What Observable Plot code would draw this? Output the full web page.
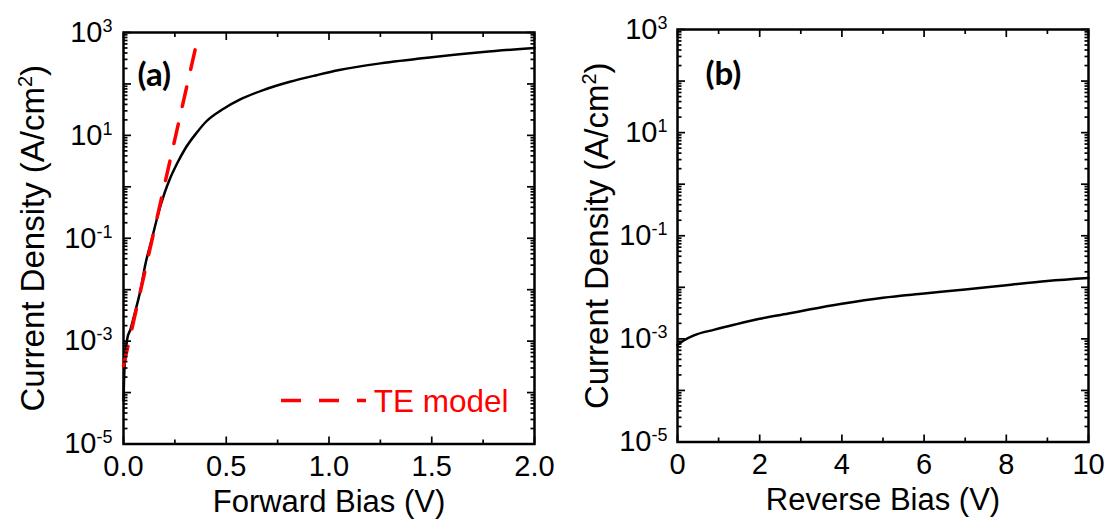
<!DOCTYPE html>
<html><head><meta charset="utf-8">
<script src="https://cdn.jsdelivr.net/npm/d3@7"></script>
<script src="https://cdn.jsdelivr.net/npm/@observablehq/plot@0.6"></script>
<style>
html,body{margin:0;padding:0;background:#fff;}
#wrap{display:flex;width:1110px;height:521px;overflow:hidden;}
#wrap > svg{flex:none;}
</style></head><body><div id="wrap"></div>
<script>
// Panel (a): forward bias J-V (measured) and TE model
const fwdV = [0, 0.003, 0.007, 0.018, 0.034, 0.055, 0.083, 0.107, 0.139, 0.171, 0.20, 0.228, 0.26, 0.30, 0.358, 0.40, 0.487, 0.568, 0.68, 0.81, 0.94, 1.05, 1.25, 1.5, 1.75, 2.0];
const fwdJ = [7e-5, 2e-4, 4e-4, 1.1e-3, 1.7e-3, 3.5e-3, 1.0e-2, 3.2e-2, 0.1, 0.32, 0.76, 1.5, 2.8, 5.5, 11.5, 18.2, 33, 50, 76, 110, 148, 186, 251, 331, 417, 500];
const teV = [0, 0.355];
const teJ = [3.3e-4, 600];
// Panel (b): reverse bias J-V
const revV = [0, 0.15, 0.4, 0.9, 1.4, 2, 2.7, 3.2, 4, 5, 6, 7, 8, 9, 10];
const revJ = [7.6e-4, 9.3e-4, 1.17e-3, 1.51e-3, 1.9e-3, 2.45e-3, 3.1e-3, 3.7e-3, 4.8e-3, 6.3e-3, 7.6e-3, 9.1e-3, 1.1e-2, 1.32e-2, 1.51e-2];

// Ticks
const yMajor = [1e-5, 1e-4, 1e-3, 1e-2, 1e-1, 1e0, 1e1, 1e2, 1e3];
const yLabelTicks = [1e-5, 1e-3, 1e-1, 1e1, 1e3];
const yMinor = [];
for (let k = -5; k < 3; k++) for (let m = 2; m <= 9; m++) yMinor.push(m * Math.pow(10, k));
const xMajorA = [0, 0.5, 1.0, 1.5, 2.0];
const xMinorA = [0.25, 0.75, 1.25, 1.75];
const xMajorB = [0, 2, 4, 6, 8, 10];
const xMinorB = [1, 3, 5, 7, 9];

const yTitle = "Current Density (A/cm^2)";
const xTitleA = "Forward Bias (V)";
const xTitleB = "Reverse Bias (V)";
const legendText = "TE model";

const FONT = "'Liberation Sans', Arial, Helvetica, sans-serif";
const NS = "http://www.w3.org/2000/svg";

function rows(xs, ys) { return xs.map((v, i) => ({V: v, J: ys[i]})); }

// inward ticks on all four sides: Plot axis ticks shifted inside the frame by their own length
function allTicks(xMajor, xMinor) {
  const c = {fill: "none", label: null, stroke: "black", strokeWidth: 1.7, ariaLabel: "inward tick"};
  return [
    Plot.axisY(yMajor, {anchor: "left", tickSize: 8, dx: 8, ...c}),
    Plot.axisY(yMinor, {anchor: "left", tickSize: 4.5, dx: 4.5, ...c}),
    Plot.axisY(yMajor, {anchor: "right", tickSize: 8, dx: -8, ...c}),
    Plot.axisY(yMinor, {anchor: "right", tickSize: 4.5, dx: -4.5, ...c}),
    Plot.axisX(xMajor, {anchor: "bottom", tickSize: 7, dy: -7, ...c}),
    Plot.axisX(xMinor, {anchor: "bottom", tickSize: 4, dy: -4, ...c}),
    Plot.axisX(xMajor, {anchor: "top", tickSize: 7, dy: 7, ...c}),
    Plot.axisX(xMinor, {anchor: "top", tickSize: 4, dy: 4, ...c})
  ];
}

function panel(o) {
  return Plot.plot({
    width: 555, height: 521,
    marginLeft: o.ml, marginRight: o.mr, marginTop: o.mt, marginBottom: o.mb,
    style: {fontFamily: FONT, color: "black"},
    x: {domain: o.xDomain, label: null},
    y: {type: "log", domain: [1e-5, 1e3], label: null},
    marks: [
      Plot.axisY(yLabelTicks, {anchor: "left", tickSize: 0, tickPadding: o.yPad, fontSize: 29, label: null,
        tickFormat: d => "10^" + Math.round(Math.log10(d))}),
      Plot.axisX(o.xMajor, {anchor: "bottom", tickSize: 0, tickPadding: 11, fontSize: 29, label: null,
        tickFormat: o.xFmt}),
      Plot.text([yTitle], {frameAnchor: "left", rotate: -90, dx: o.yTitleDx, textAnchor: "middle", lineAnchor: "middle",
        fontSize: 33, fill: "black"}),
      Plot.text([o.xTitle], {frameAnchor: "bottom", dy: 58, textAnchor: "middle", lineAnchor: "middle", fontSize: 31, fill: "black"}),
      Plot.text([o.tag], {frameAnchor: "top-left", dx: o.tagDx, dy: o.tagDy, textAnchor: "start", lineAnchor: "middle",
        fontSize: 33, fontWeight: "bold", fontFamily: "Lato, 'Liberation Sans', sans-serif", fill: "black"}),
      Plot.frame({stroke: "black", strokeWidth: 2.5, fill: "none"}),
      ...o.extra,
      ...allTicks(o.xMajor, o.xMinor)
    ]
  });
}

function legendSample(index, scales, values, dims) {
  const right = dims.width - dims.marginRight;
  const bottom = dims.height - dims.marginBottom;
  const line = document.createElementNS(NS, "line");
  line.setAttribute("x1", right - 253);
  line.setAttribute("x2", right - 168);
  line.setAttribute("y1", bottom - 43);
  line.setAttribute("y2", bottom - 43);
  line.setAttribute("stroke", "#ff0000");
  line.setAttribute("stroke-width", 3.5);
  line.setAttribute("stroke-dasharray", "20,18");
  return line;
}

const svgA = panel({
  ml: 123, mr: 21, mt: 32, mb: 77.5, xDomain: [0, 2], xMajor: xMajorA, xMinor: xMinorA,
  xFmt: d3.format(".1f"), xTitle: xTitleA, tag: "(a)", tagDx: 14, tagDy: 43, yPad: 11, yTitleDx: -90,
  extra: [
    Plot.line(rows(fwdV, fwdJ), {x: "V", y: "J", stroke: "black", strokeWidth: 2.5, curve: "monotone-x"}),
    Plot.line(rows(teV, teJ), {x: "V", y: "J", stroke: "#ff0000", strokeWidth: 3.5, strokeDasharray: "20,18"}),
    legendSample,
    Plot.text([legendText], {frameAnchor: "bottom-right", dx: -26, dy: -42, textAnchor: "end", lineAnchor: "middle",
      fontSize: 31.5, fill: "#ff0000"})
  ]
});
const svgB = panel({
  ml: 122, mr: 22, mt: 29, mb: 79.5, xDomain: [0, 10], xMajor: xMajorB, xMinor: xMinorB,
  xFmt: d3.format("d"), xTitle: xTitleB, tag: "(b)", tagDx: 28, tagDy: 45, yPad: 10, yTitleDx: -80,
  extra: [
    Plot.line(rows(revV, revJ), {x: "V", y: "J", stroke: "black", strokeWidth: 2.5, curve: "monotone-x"})
  ]
});

// render "^" as superscript; keep inward ticks on top and force their paint
function finish(svg) {
  svg.querySelectorAll('g[aria-label="y-axis tick label"], g[aria-label="x-axis tick label"]').forEach(g => {
    g.setAttribute("font-size", 29);
  });
  svg.querySelectorAll("text").forEach(t => {
    const s = t.textContent;
    const i = s.indexOf("^");
    if (i < 0 || t.querySelector("tspan")) return;
    const fs = parseFloat(getComputedStyle(t).fontSize) || 29;
    const before = s.slice(0, i);
    const rest = s.slice(i + 1);
    const m = rest.match(/^(-?\d+)(.*)$/);
    const sup = m ? m[1] : rest;
    const after = m ? m[2] : "";
    t.textContent = "";
    t.appendChild(document.createTextNode(before));
    const raise = Math.round(fs * 0.36);
    const ts = document.createElementNS(NS, "tspan");
    ts.setAttribute("dy", -raise);
    ts.setAttribute("font-size", Math.round(fs * 0.62));
    ts.textContent = sup;
    t.appendChild(ts);
    if (after) {
      const ta = document.createElementNS(NS, "tspan");
      ta.setAttribute("dy", raise);
      ta.textContent = after;
      t.appendChild(ta);
    }
  });
  svg.querySelectorAll('g[aria-label="inward tick"], g[aria-label="y-axis tick"], g[aria-label="x-axis tick"]').forEach(g => {
    g.style.stroke = "#000";
    g.style.strokeWidth = "1.7px";
    g.style.opacity = "1";
    g.style.visibility = "visible";
    svg.appendChild(g);
  });
}

const wrap = document.getElementById("wrap");
wrap.appendChild(svgA);
wrap.appendChild(svgB);
finish(svgA);
finish(svgB);
</script>
</body></html>
